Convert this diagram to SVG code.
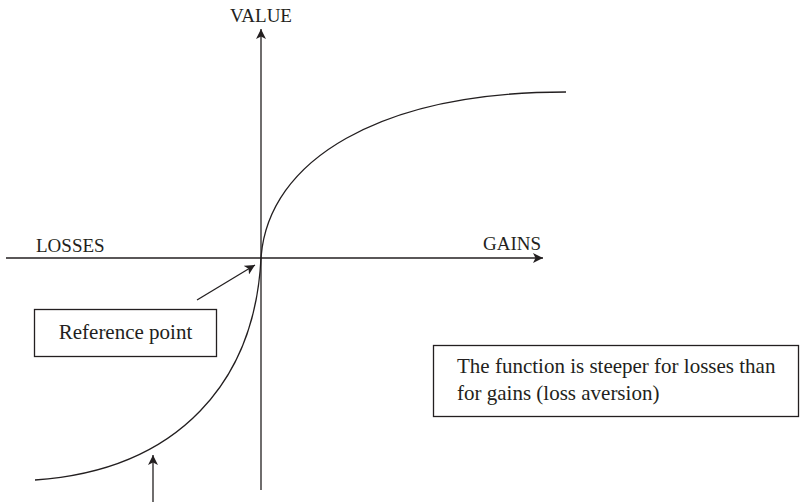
<svg xmlns="http://www.w3.org/2000/svg" width="801" height="502" viewBox="0 0 801 502">
<style>
text{font-family:"Liberation Serif","Times New Roman",serif;fill:#231f20}
.lbl{font-size:19px}
.box{font-size:21px}
.ln{stroke:#231f20;stroke-width:1.3;fill:none}
.rect{stroke:#231f20;stroke-width:1.3;fill:#fff}
</style>
<defs>
<marker id="ah" viewBox="0 0 10 10" refX="10" refY="5" markerWidth="10" markerHeight="10" markerUnits="userSpaceOnUse" orient="auto">
<path d="M0,0 L10,5 L0,10 L2.5,5 Z" fill="#231f20"/>
</marker>
</defs>
<rect width="801" height="502" fill="#fff"/>
<g id="connectors">
<line class="ln" x1="261" y1="490" x2="261" y2="29" marker-end="url(#ah)"/>
<line class="ln" x1="6" y1="258" x2="543" y2="258" marker-end="url(#ah)"/>
<path id="curve-gains" class="ln" d="M261,258 C268,160 380,92 566,92"/>
<path id="curve-losses" class="ln" d="M261,258 C255,380 180,470 35,480"/>
<line class="ln" x1="197" y1="300" x2="255" y2="265" marker-end="url(#ah)"/>
<line class="ln" x1="153" y1="502" x2="153" y2="455" marker-end="url(#ah)"/>
</g>
<g id="axis-labels">
<text class="lbl" x="261" y="22" text-anchor="middle">VALUE</text>
<text class="lbl" x="36" y="252">LOSSES</text>
<text class="lbl" x="541" y="250" text-anchor="end">GAINS</text>
</g>
<g id="reference-point">
<rect class="rect" x="34.5" y="309.5" width="182" height="47"/>
<text class="box" x="125.5" y="339" text-anchor="middle">Reference point</text>
</g>
<g id="loss-aversion">
<rect class="rect" x="433.5" y="345.5" width="365" height="71"/>
<text class="box" x="457" y="373">The function is steeper for losses than</text>
<text class="box" x="457" y="400">for gains (loss aversion)</text>
</g>
</svg>
